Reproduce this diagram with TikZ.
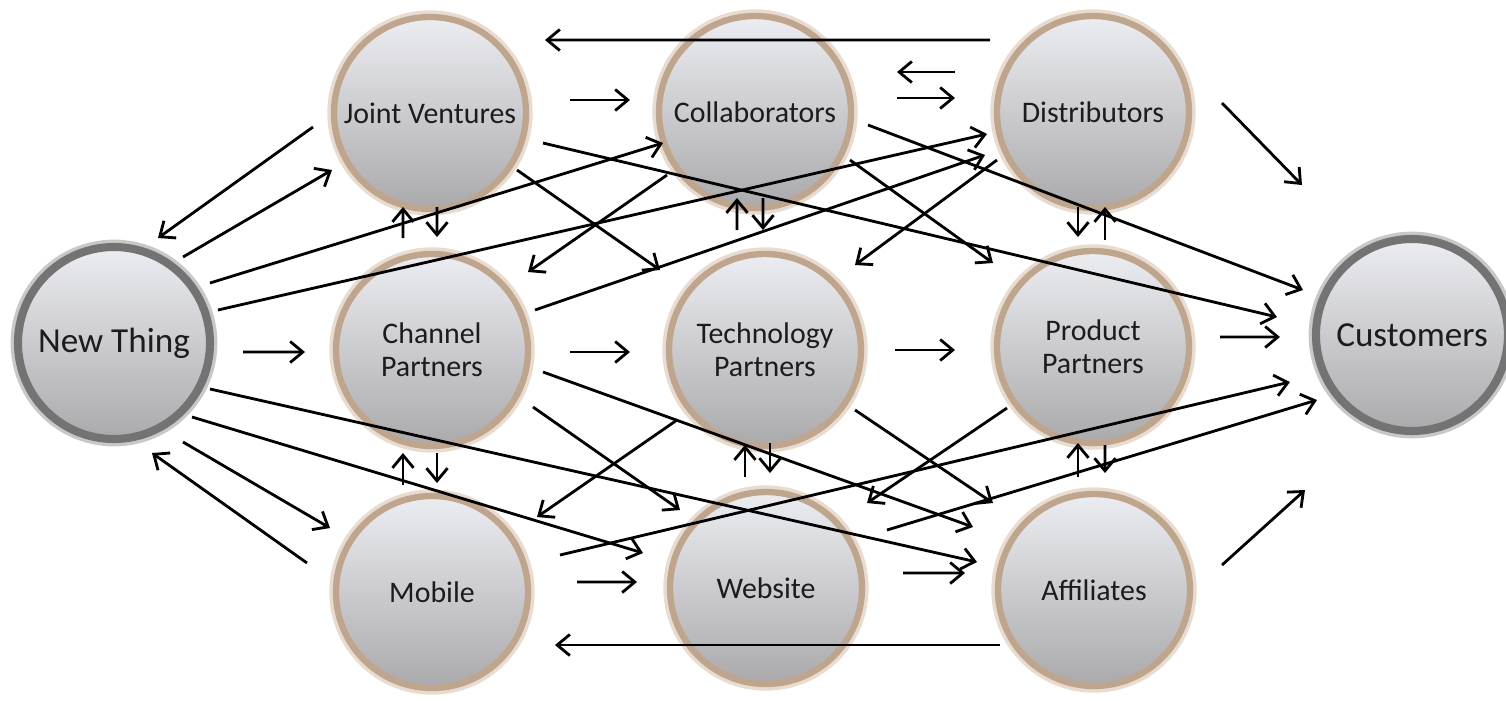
\documentclass[tikz,border=0pt]{standalone}
\usepackage{xcolor}
\usepackage{tikz}
\usepackage{fontspec}
\setmainfont{Carlito}
\usetikzlibrary{calc,arrows.meta}

\definecolor{ringtan}{RGB}{190,165,140}
\definecolor{glowtan}{RGB}{232,220,208}
\definecolor{ringgray}{RGB}{115,115,115}
\definecolor{glowgray}{RGB}{200,200,200}
\definecolor{ballhi}{RGB}{236,237,242}
\definecolor{balllo}{RGB}{170,170,172}
\definecolor{ink}{RGB}{28,28,28}

\begin{document}
\begin{tikzpicture}[
    >={Straight Barb[length=3.6pt,width=6pt]},
    ball/.style={circle, minimum size=1.92cm, inner sep=0pt, align=center,
        draw=ringtan, line width=1.8pt, top color=ballhi, bottom color=balllo,
        preaction={draw=glowtan, line width=3.8pt},
        text=ink, font=\fontsize{8.5}{9.3}\selectfont},
    endball/.style={ball, draw=ringgray, line width=2.3pt,
        preaction={draw=glowgray, line width=4.2pt},
        font=\fontsize{10}{12}\selectfont},
    link/.style={->, line width=0.8pt}
]
    \fill[white] (0, 0) rectangle (15.06, 7.00);
    \useasboundingbox (0, 0) rectangle (15.06, 7.00);

    \node[endball] (nt) at (1.14, 3.57) {New Thing};
    \node[ball] (jv) at (4.30, 5.87) {Joint Ventures};
    \node[ball] (co) at (7.55, 5.88) {Collaborators};
    \node[ball] (di) at (10.93, 5.88) {Distributors};
    \node[ball] (cp) at (4.32, 3.50) {Channel\\Partners};
    \node[ball] (tp) at (7.65, 3.50) {Technology\\Partners};
    \node[ball] (pp) at (10.93, 3.53) {Product\\Partners};
    \node[ball] (mo) at (4.32, 1.08) {Mobile};
    \node[ball] (we) at (7.66, 1.12) {Website};
    \node[ball] (af) at (10.94, 1.10) {Affiliates};
    \node[endball] (cu) at (14.12, 3.65) {Customers};

    \draw[link] ($(di)+(-1.03, 0.72)$) -- ($(jv)+(1.15, 0.73)$);
    \draw[link] ($(af)+(-0.94, -0.55)$) -- ($(mo)+(1.23, -0.53)$);

    \draw[link] ($(jv)+(1.40, 0.13)$) -- ($(co)+(-1.25, 0.12)$);
    \draw[link] ($(di)+(-1.38, 0.40)$) -- ($(co)+(1.42, 0.40)$);
    \draw[link] ($(co)+(1.42, 0.14)$) -- ($(di)+(-1.38, 0.14)$);
    \draw[link] ($(di)+(1.29, 0.09)$) -- ($(cu)+(-1.10, 1.50)$);

    \draw[link] ($(jv)+(-1.17, -0.14)$) -- ($(nt)+(0.44, 1.05)$);
    \draw[link] ($(nt)+(0.69, 0.86)$) -- ($(jv)+(-0.98, -0.57)$);
    \draw[link] ($(nt)+(0.96, 0.60)$) -- ($(co)+(-0.92, -0.31)$);
    \draw[link] ($(nt)+(1.04, 0.33)$) -- ($(di)+(-1.06, -0.22)$);
    \draw[link] ($(nt)+(1.29, -0.09)$) -- ($(cp)+(-1.27, -0.02)$);
    \draw[link] ($(nt)+(0.96, -0.46)$) -- ($(af)+(-1.17, 0.28)$);
    \draw[link] ($(nt)+(0.78, -0.74)$) -- ($(we)+(-1.23, 0.35)$);
    \draw[link] ($(nt)+(0.69, -0.99)$) -- ($(mo)+(-1.02, 0.64)$);
    \draw[link] ($(mo)+(-1.25, 0.29)$) -- ($(nt)+(0.38, -1.10)$);

    \draw[link] ($(cp)+(-0.29, 1.12)$) -- ($(jv)+(-0.27, -0.94)$);
    \draw[link] ($(jv)+(0.07, -0.94)$) -- ($(cp)+(0.05, 1.13)$);
    \draw[link] ($(cp)+(0.05, -1.03)$) -- ($(mo)+(0.05, 1.09)$);
    \draw[link] ($(mo)+(-0.29, 1.07)$) -- ($(cp)+(-0.29, -1.03)$);
    \draw[link] ($(tp)+(-0.28, 1.20)$) -- ($(co)+(-0.18, -0.86)$);
    \draw[link] ($(co)+(0.08, -0.86)$) -- ($(tp)+(-0.02, 1.20)$);
    \draw[link] ($(di)+(-0.15, -0.95)$) -- ($(pp)+(-0.15, 1.10)$);
    \draw[link] ($(pp)+(0.12, 1.07)$) -- ($(di)+(0.12, -0.95)$);
    \draw[link] ($(we)+(-0.21, 1.11)$) -- ($(tp)+(-0.20, -0.95)$);
    \draw[link] ($(tp)+(0.05, -0.93)$) -- ($(we)+(0.04, 1.15)$);
    \draw[link] ($(af)+(-0.16, 1.13)$) -- ($(pp)+(-0.15, -0.96)$);
    \draw[link] ($(pp)+(0.12, -0.98)$) -- ($(af)+(0.11, 1.17)$);

    \draw[link] ($(cp)+(1.38, -0.02)$) -- ($(tp)+(-1.35, -0.02)$);
    \draw[link] ($(tp)+(1.30, 0)$) -- ($(pp)+(-1.38, -0.03)$);
    \draw[link] ($(pp)+(1.27, 0.10)$) -- ($(cu)+(-1.32, -0.02)$);
    \draw[link] ($(mo)+(1.45, 0.10)$) -- ($(we)+(-1.29, 0.06)$);
    \draw[link] ($(we)+(1.37, 0.15)$) -- ($(af)+(-1.29, 0.17)$);

    \draw[link] ($(jv)+(0.87, -0.57)$) -- ($(tp)+(-1.05, 0.80)$);
    \draw[link] ($(jv)+(1.13, -0.30)$) -- ($(cu)+(-1.35, 0.18)$);
    \draw[link] ($(co)+(-0.88, -0.63)$) -- ($(cp)+(0.96, 0.78)$);
    \draw[link] ($(co)+(0.95, -0.48)$) -- ($(pp)+(-1.00, 0.84)$);
    \draw[link] ($(co)+(1.13, -0.13)$) -- ($(cu)+(-1.09, 0.45)$);
    \draw[link] ($(di)+(-0.96, -0.48)$) -- ($(tp)+(0.90, 0.85)$);
    \draw[link] ($(cp)+(1.03, 0.40)$) -- ($(di)+(-1.08, -0.43)$);

    \draw[link] ($(cp)+(1.01, -0.57)$) -- ($(we)+(-0.86, 0.78)$);
    \draw[link] ($(cp)+(1.11, -0.22)$) -- ($(af)+(-1.21, 0.63)$);
    \draw[link] ($(tp)+(-0.88, -0.70)$) -- ($(mo)+(1.05, 0.75)$);
    \draw[link] ($(tp)+(0.90, -0.60)$) -- ($(af)+(-1.01, 0.87)$);
    \draw[link] ($(pp)+(-0.86, -0.61)$) -- ($(we)+(1.01, 0.85)$);
    \draw[link] ($(mo)+(1.28, 0.37)$) -- ($(cu)+(-1.22, -0.47)$);
    \draw[link] ($(we)+(1.21, 0.58)$) -- ($(cu)+(-0.95, -0.65)$);
    \draw[link] ($(af)+(1.28, 0.25)$) -- ($(cu)+(-1.07, -1.55)$);
\end{tikzpicture}
\end{document}
